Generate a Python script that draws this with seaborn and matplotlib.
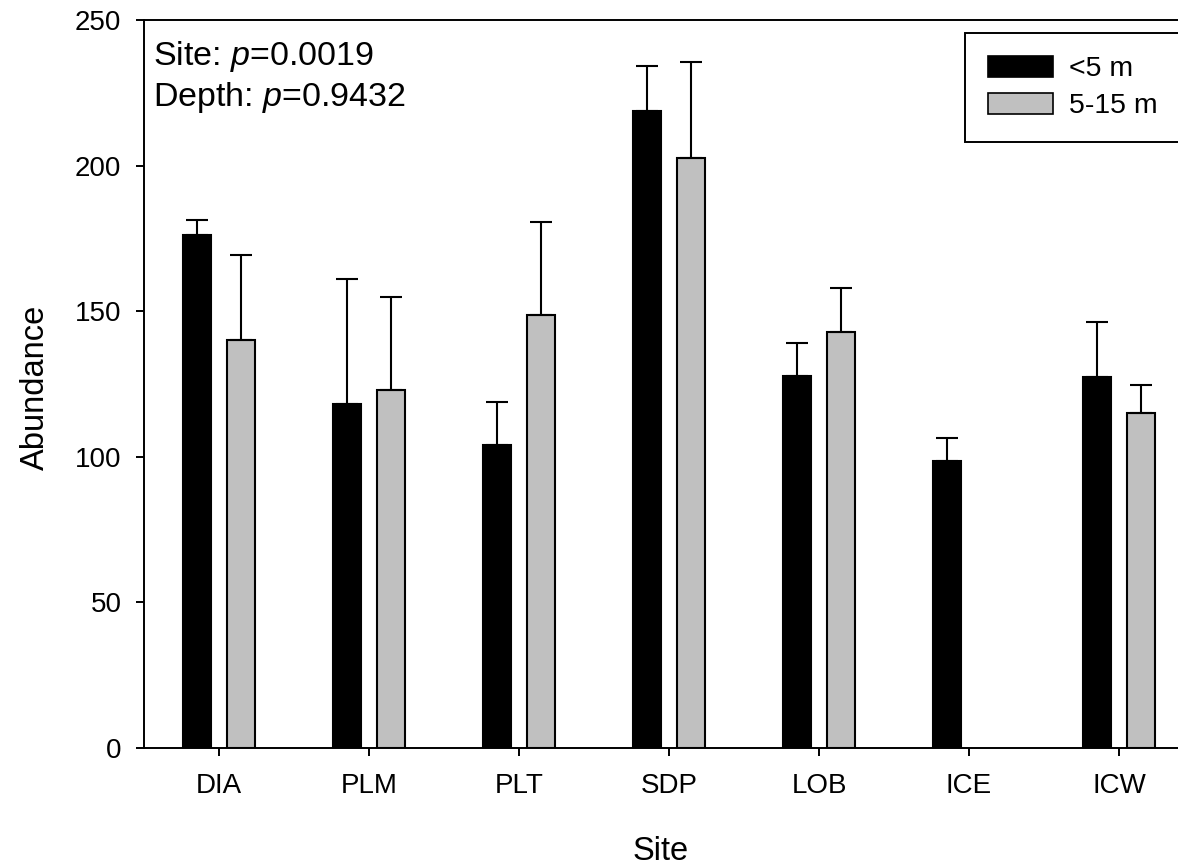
import matplotlib
matplotlib.use("Agg")
import matplotlib.pyplot as plt
import matplotlib.patches as mpatches
import numpy as np
import pandas as pd
import seaborn as sns

# ---- data ----
sites = ["DIA", "PLM", "PLT", "SDP", "LOB", "ICE", "ICW"]
depths = ["<5 m", "5-15 m"]
shallow_mean = [176.0, 118.0, 104.1, 218.9, 127.7, 98.7, 127.3]
shallow_se = [5.3, 43.1, 14.6, 15.3, 11.3, 7.9, 19.0]
deep_mean = [140.1, 122.9, 148.7, 202.7, 142.9, np.nan, 115.1]
deep_se = [29.2, 31.9, 32.0, 32.8, 15.2, np.nan, 9.7]
y_ticks = [0, 50, 100, 150, 200, 250]
annot_lines = ["Site: $\\mathit{p}$=0.0019", "Depth: $\\mathit{p}$=0.9432"]

colors = {"<5 m": "#000000", "5-15 m": "#c0c0c0"}

df = pd.DataFrame({
    "Site": sites * 2,
    "Depth": [depths[0]] * len(sites) + [depths[1]] * len(sites),
    "Abundance": shallow_mean + deep_mean,
})
err = {depths[0]: shallow_se, depths[1]: deep_se}

sns.set_style("ticks")
plt.rcParams["font.family"] = ["Liberation Sans", "DejaVu Sans"]
plt.rcParams["mathtext.fontset"] = "custom"
plt.rcParams["mathtext.rm"] = "Liberation Sans"
plt.rcParams["mathtext.it"] = "Liberation Sans:italic"
for k in ["text.color", "axes.labelcolor", "xtick.color", "ytick.color",
          "axes.edgecolor"]:
    plt.rcParams[k] = "black"

W, H = 1178, 867
fig = plt.figure(figsize=(W / 100, H / 100), dpi=100)
ax = fig.add_axes([144 / W, 1 - 748 / H, 1050 / W, 728 / H])

sns.barplot(data=df, x="Site", y="Abundance", hue="Depth", order=sites,
            hue_order=depths, palette=colors, errorbar=None, width=0.587,
            gap=0.36, edgecolor="black", linewidth=1.5, saturation=1,
            ax=ax, legend=False)

# upper error bars
for cont, d in zip(ax.containers, depths):
    for p in cont.patches:
        xc = p.get_x() + p.get_width() / 2
        h = p.get_height()
        idx = int(round(xc))
        e = err[d][idx]
        if np.isnan(h) or np.isnan(e):
            continue
        ax.errorbar([xc], [h], yerr=[[0], [e]], fmt="none", ecolor="black",
                    elinewidth=1.5, capsize=8, capthick=1.5, zorder=1)

ax.set_xlim(-0.5, 6.5)
ax.set_ylim(0, 250)
ax.set_yticks(y_ticks)
ax.tick_params(axis="both", direction="out", length=5.8, width=1.4,
               labelsize=20, color="black", labelcolor="black")
ax.tick_params(axis="x", pad=12)
ax.tick_params(axis="y", pad=10.5)
for s in ["left", "bottom", "top"]:
    ax.spines[s].set_linewidth(1.4)
    ax.spines[s].set_color("black")
ax.spines["right"].set_visible(False)

ax.set_xlabel("Site", fontsize=23.5)
ax.set_ylabel("Abundance", fontsize=23.5)
ax.xaxis.set_label_coords(0.492, -0.121)
ax.yaxis.set_label_coords(-0.089, 0.495)

ax.text(0.009, 0.974, "\n".join(annot_lines), transform=ax.transAxes,
        ha="left", va="top", fontsize=24.5, linespacing=1.22)

handles = [mpatches.Patch(facecolor=colors[d], edgecolor="black", linewidth=1.2)
           for d in depths]
leg = ax.legend(handles, depths, loc="upper left",
                bbox_to_anchor=(965 / W, 1 - 33 / H),
                bbox_transform=fig.transFigure, fontsize=20.5, frameon=True,
                fancybox=False, edgecolor="black", framealpha=1,
                borderpad=0.8, borderaxespad=0, handlelength=2.3,
                handleheight=0.76, handletextpad=0.55, labelspacing=0.38)
leg.get_frame().set_linewidth(1.4)

fig.savefig("out.png", dpi=100, facecolor="white")
